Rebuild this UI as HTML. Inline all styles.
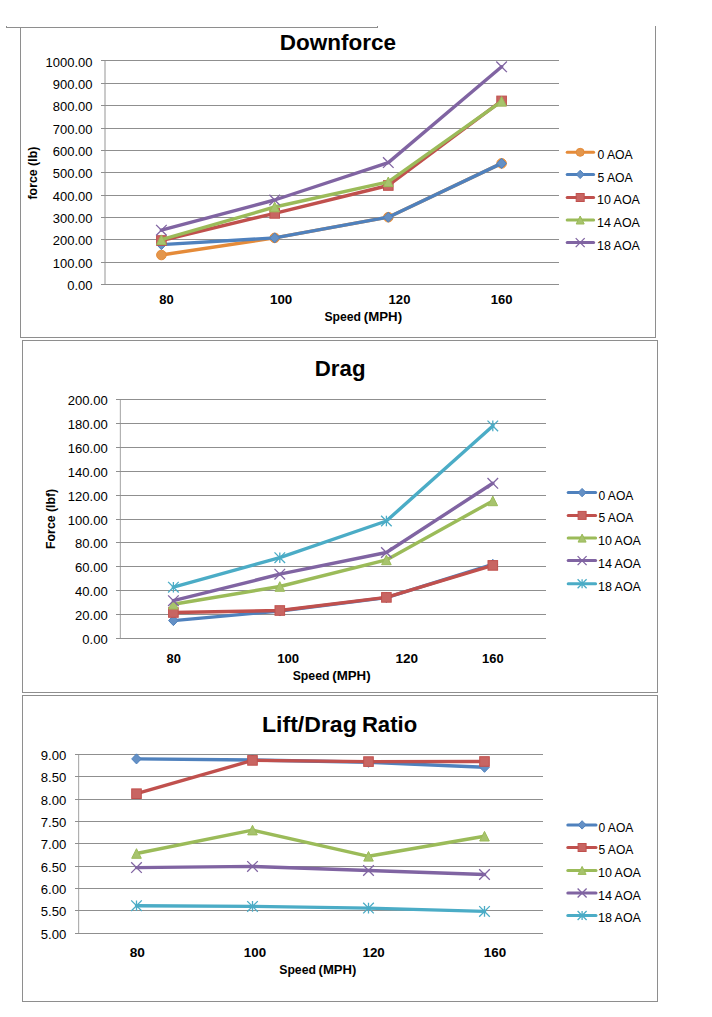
<!DOCTYPE html>
<html><head><meta charset="utf-8"><style>
html,body{margin:0;padding:0;background:#fff;width:712px;height:1017px;overflow:hidden}
svg{display:block;font-family:"Liberation Sans",sans-serif}
</style></head><body>
<svg width="712" height="1017" viewBox="0 0 712 1017">
<line x1="6.00" y1="27.50" x2="378.00" y2="27.50" stroke="#8e8e8e" stroke-width="1"/>
<line x1="6.50" y1="26.00" x2="6.50" y2="28.00" stroke="#8e8e8e" stroke-width="1"/>
<line x1="377.50" y1="26.00" x2="377.50" y2="28.00" stroke="#8e8e8e" stroke-width="1"/>
<line x1="20.50" y1="27.00" x2="20.50" y2="338.00" stroke="#8e8e8e" stroke-width="1"/>
<line x1="655.50" y1="26.00" x2="655.50" y2="338.00" stroke="#8e8e8e" stroke-width="1"/>
<line x1="20.00" y1="337.50" x2="656.00" y2="337.50" stroke="#8e8e8e" stroke-width="1"/>
<rect x="22.5" y="340.5" width="635" height="352" fill="none" stroke="#8e8e8e" stroke-width="1"/>
<rect x="22.5" y="695.5" width="635" height="306" fill="none" stroke="#8e8e8e" stroke-width="1"/>
<line x1="105.00" y1="60.00" x2="105.00" y2="285.00" stroke="#cacaca" stroke-width="2"/>
<line x1="101.00" y1="60.50" x2="559.00" y2="60.50" stroke="#8f8f8f" stroke-width="1"/>
<line x1="101.00" y1="83.50" x2="559.00" y2="83.50" stroke="#8f8f8f" stroke-width="1"/>
<line x1="101.00" y1="105.50" x2="559.00" y2="105.50" stroke="#8f8f8f" stroke-width="1"/>
<line x1="101.00" y1="128.50" x2="559.00" y2="128.50" stroke="#8f8f8f" stroke-width="1"/>
<line x1="101.00" y1="150.50" x2="559.00" y2="150.50" stroke="#8f8f8f" stroke-width="1"/>
<line x1="101.00" y1="172.50" x2="559.00" y2="172.50" stroke="#8f8f8f" stroke-width="1"/>
<line x1="101.00" y1="195.50" x2="559.00" y2="195.50" stroke="#8f8f8f" stroke-width="1"/>
<line x1="101.00" y1="217.50" x2="559.00" y2="217.50" stroke="#8f8f8f" stroke-width="1"/>
<line x1="101.00" y1="239.50" x2="559.00" y2="239.50" stroke="#8f8f8f" stroke-width="1"/>
<line x1="101.00" y1="262.50" x2="559.00" y2="262.50" stroke="#8f8f8f" stroke-width="1"/>
<line x1="101.00" y1="284.50" x2="559.00" y2="284.50" stroke="#8f8f8f" stroke-width="1"/>
<text x="45.51" y="67.10" font-size="12.40" font-weight="normal" fill="#000" textLength="47.00" lengthAdjust="spacingAndGlyphs">1000.00</text>
<text x="52.74" y="89.00" font-size="12.40" font-weight="normal" fill="#000" textLength="39.77" lengthAdjust="spacingAndGlyphs">900.00</text>
<text x="52.74" y="111.00" font-size="12.40" font-weight="normal" fill="#000" textLength="39.77" lengthAdjust="spacingAndGlyphs">800.00</text>
<text x="52.74" y="134.00" font-size="12.40" font-weight="normal" fill="#000" textLength="39.77" lengthAdjust="spacingAndGlyphs">700.00</text>
<text x="52.74" y="156.00" font-size="12.40" font-weight="normal" fill="#000" textLength="39.77" lengthAdjust="spacingAndGlyphs">600.00</text>
<text x="52.74" y="178.00" font-size="12.40" font-weight="normal" fill="#000" textLength="39.77" lengthAdjust="spacingAndGlyphs">500.00</text>
<text x="52.74" y="201.00" font-size="12.40" font-weight="normal" fill="#000" textLength="39.77" lengthAdjust="spacingAndGlyphs">400.00</text>
<text x="52.74" y="223.00" font-size="12.40" font-weight="normal" fill="#000" textLength="39.77" lengthAdjust="spacingAndGlyphs">300.00</text>
<text x="52.74" y="245.00" font-size="12.40" font-weight="normal" fill="#000" textLength="39.77" lengthAdjust="spacingAndGlyphs">200.00</text>
<text x="52.74" y="268.00" font-size="12.40" font-weight="normal" fill="#000" textLength="39.77" lengthAdjust="spacingAndGlyphs">100.00</text>
<text x="67.20" y="290.00" font-size="12.40" font-weight="normal" fill="#000" textLength="25.31" lengthAdjust="spacingAndGlyphs">0.00</text>
<text x="159.19" y="303.60" font-size="12.00" font-weight="bold" fill="#000" textLength="14.44" lengthAdjust="spacingAndGlyphs">80</text>
<text x="269.96" y="303.60" font-size="12.00" font-weight="bold" fill="#000" textLength="22.29" lengthAdjust="spacingAndGlyphs">100</text>
<text x="388.57" y="303.60" font-size="12.00" font-weight="bold" fill="#000" textLength="21.86" lengthAdjust="spacingAndGlyphs">120</text>
<text x="490.88" y="303.60" font-size="12.00" font-weight="bold" fill="#000" textLength="21.76" lengthAdjust="spacingAndGlyphs">160</text>
<text x="324.45" y="320.50" font-size="12.00" font-weight="bold" fill="#000" textLength="36.55" lengthAdjust="spacingAndGlyphs">Speed</text>
<text x="363.84" y="320.50" font-size="12.00" font-weight="bold" fill="#000" textLength="38.22" lengthAdjust="spacingAndGlyphs">(MPH)</text>
<text x="279.89" y="49.60" font-size="22.00" font-weight="bold" fill="#000" textLength="116.27" lengthAdjust="spacingAndGlyphs">Downforce</text>
<text transform="translate(36.90 199.51) rotate(-90)" x="0" y="0" font-size="12.00" font-weight="bold" fill="#000" textLength="52.83" lengthAdjust="spacingAndGlyphs">force (lb)</text>
<polyline points="161.40,255.00 274.70,237.90 388.30,217.20 501.60,163.40" fill="none" stroke="#E58B39" stroke-width="3.40" stroke-linejoin="round" stroke-linecap="round"/><circle cx="161.40" cy="255.00" r="4.80" fill="#E3964C" stroke="#E58B39" stroke-width="1.00"/><circle cx="274.70" cy="237.90" r="4.80" fill="#E3964C" stroke="#E58B39" stroke-width="1.00"/><circle cx="388.30" cy="217.20" r="4.80" fill="#E3964C" stroke="#E58B39" stroke-width="1.00"/><circle cx="501.60" cy="163.40" r="4.80" fill="#E3964C" stroke="#E58B39" stroke-width="1.00"/>
<polyline points="161.40,244.60 274.70,237.90 388.30,217.20 501.60,163.40" fill="none" stroke="#4F81BD" stroke-width="3.40" stroke-linejoin="round" stroke-linecap="round"/><path d="M161.40 239.56L166.20 244.60L161.40 249.64L156.60 244.60Z" fill="#6490C5" stroke="#4F81BD" stroke-width="1.00"/><path d="M274.70 232.86L279.50 237.90L274.70 242.94L269.90 237.90Z" fill="#6490C5" stroke="#4F81BD" stroke-width="1.00"/><path d="M388.30 212.16L393.10 217.20L388.30 222.24L383.50 217.20Z" fill="#6490C5" stroke="#4F81BD" stroke-width="1.00"/><path d="M501.60 158.36L506.40 163.40L501.60 168.44L496.80 163.40Z" fill="#6490C5" stroke="#4F81BD" stroke-width="1.00"/>
<polyline points="161.40,240.50 274.70,213.40 388.30,185.50 501.60,100.90" fill="none" stroke="#C0504D" stroke-width="3.40" stroke-linejoin="round" stroke-linecap="round"/><rect x="156.60" y="235.70" width="9.60" height="9.60" fill="#C86562" stroke="#C0504D" stroke-width="1.00"/><rect x="269.90" y="208.60" width="9.60" height="9.60" fill="#C86562" stroke="#C0504D" stroke-width="1.00"/><rect x="383.50" y="180.70" width="9.60" height="9.60" fill="#C86562" stroke="#C0504D" stroke-width="1.00"/><rect x="496.80" y="96.10" width="9.60" height="9.60" fill="#C86562" stroke="#C0504D" stroke-width="1.00"/>
<polyline points="161.40,239.70 274.70,207.00 388.30,181.80 501.60,101.30" fill="none" stroke="#9BBB59" stroke-width="3.40" stroke-linejoin="round" stroke-linecap="round"/><path d="M161.40 234.90L166.20 244.50L156.60 244.50Z" fill="#A7C36D" stroke="#9BBB59" stroke-width="1.00"/><path d="M274.70 202.20L279.50 211.80L269.90 211.80Z" fill="#A7C36D" stroke="#9BBB59" stroke-width="1.00"/><path d="M388.30 177.00L393.10 186.60L383.50 186.60Z" fill="#A7C36D" stroke="#9BBB59" stroke-width="1.00"/><path d="M501.60 96.50L506.40 106.10L496.80 106.10Z" fill="#A7C36D" stroke="#9BBB59" stroke-width="1.00"/>
<polyline points="161.40,230.20 274.70,200.00 388.30,162.60 501.60,66.80" fill="none" stroke="#8064A2" stroke-width="3.40" stroke-linejoin="round" stroke-linecap="round"/><path d="M156.10 224.90L166.70 235.50M166.70 224.90L156.10 235.50" stroke="#8064A2" stroke-width="1.3" fill="none"/><path d="M269.40 194.70L280.00 205.30M280.00 194.70L269.40 205.30" stroke="#8064A2" stroke-width="1.3" fill="none"/><path d="M383.00 157.30L393.60 167.90M393.60 157.30L383.00 167.90" stroke="#8064A2" stroke-width="1.3" fill="none"/><path d="M496.30 61.50L506.90 72.10M506.90 61.50L496.30 72.10" stroke="#8064A2" stroke-width="1.3" fill="none"/>
<line x1="567.20" y1="152.30" x2="593.60" y2="152.30" stroke="#E58B39" stroke-width="3" stroke-linecap="round"/><circle cx="580.20" cy="152.30" r="4.00" fill="#E3964C" stroke="#E58B39" stroke-width="1.00"/><text x="597.43" y="159.00" font-size="12.00" font-weight="normal" fill="#000" textLength="35.29" lengthAdjust="spacingAndGlyphs">0 AOA</text>
<line x1="567.20" y1="174.40" x2="593.60" y2="174.40" stroke="#4F81BD" stroke-width="3" stroke-linecap="round"/><path d="M580.20 170.20L584.20 174.40L580.20 178.60L576.20 174.40Z" fill="#6490C5" stroke="#4F81BD" stroke-width="1.00"/><text x="597.42" y="181.60" font-size="12.00" font-weight="normal" fill="#000" textLength="35.30" lengthAdjust="spacingAndGlyphs">5 AOA</text>
<line x1="567.20" y1="197.50" x2="593.60" y2="197.50" stroke="#C0504D" stroke-width="3" stroke-linecap="round"/><rect x="576.20" y="193.50" width="8.00" height="8.00" fill="#C86562" stroke="#C0504D" stroke-width="1.00"/><text x="596.97" y="204.40" font-size="12.00" font-weight="normal" fill="#000" textLength="42.96" lengthAdjust="spacingAndGlyphs">10 AOA</text>
<line x1="567.20" y1="220.00" x2="593.60" y2="220.00" stroke="#9BBB59" stroke-width="3" stroke-linecap="round"/><path d="M580.20 216.00L584.20 224.00L576.20 224.00Z" fill="#A7C36D" stroke="#9BBB59" stroke-width="1.00"/><text x="596.97" y="226.90" font-size="12.00" font-weight="normal" fill="#000" textLength="42.96" lengthAdjust="spacingAndGlyphs">14 AOA</text>
<line x1="567.20" y1="242.60" x2="593.60" y2="242.60" stroke="#8064A2" stroke-width="3" stroke-linecap="round"/><path d="M575.70 238.10L584.70 247.10M584.70 238.10L575.70 247.10" stroke="#8064A2" stroke-width="1.3" fill="none"/><text x="596.97" y="249.50" font-size="12.00" font-weight="normal" fill="#000" textLength="42.96" lengthAdjust="spacingAndGlyphs">18 AOA</text>
<line x1="120.50" y1="399.00" x2="120.50" y2="639.00" stroke="#b2b2b2" stroke-width="1"/>
<line x1="119.50" y1="399.00" x2="119.50" y2="639.00" stroke="#f0f0f0" stroke-width="1"/>
<line x1="116.00" y1="399.50" x2="546.00" y2="399.50" stroke="#8f8f8f" stroke-width="1"/>
<line x1="116.00" y1="423.50" x2="546.00" y2="423.50" stroke="#8f8f8f" stroke-width="1"/>
<line x1="116.00" y1="447.50" x2="546.00" y2="447.50" stroke="#8f8f8f" stroke-width="1"/>
<line x1="116.00" y1="471.50" x2="546.00" y2="471.50" stroke="#8f8f8f" stroke-width="1"/>
<line x1="116.00" y1="495.50" x2="546.00" y2="495.50" stroke="#8f8f8f" stroke-width="1"/>
<line x1="116.00" y1="519.50" x2="546.00" y2="519.50" stroke="#8f8f8f" stroke-width="1"/>
<line x1="116.00" y1="542.50" x2="546.00" y2="542.50" stroke="#8f8f8f" stroke-width="1"/>
<line x1="116.00" y1="566.50" x2="546.00" y2="566.50" stroke="#8f8f8f" stroke-width="1"/>
<line x1="116.00" y1="590.50" x2="546.00" y2="590.50" stroke="#8f8f8f" stroke-width="1"/>
<line x1="116.00" y1="614.50" x2="546.00" y2="614.50" stroke="#8f8f8f" stroke-width="1"/>
<line x1="116.00" y1="638.50" x2="546.00" y2="638.50" stroke="#8f8f8f" stroke-width="1"/>
<text x="67.74" y="405.00" font-size="12.40" font-weight="normal" fill="#000" textLength="39.97" lengthAdjust="spacingAndGlyphs">200.00</text>
<text x="67.74" y="429.00" font-size="12.40" font-weight="normal" fill="#000" textLength="39.97" lengthAdjust="spacingAndGlyphs">180.00</text>
<text x="67.74" y="453.00" font-size="12.40" font-weight="normal" fill="#000" textLength="39.97" lengthAdjust="spacingAndGlyphs">160.00</text>
<text x="67.74" y="477.00" font-size="12.40" font-weight="normal" fill="#000" textLength="39.97" lengthAdjust="spacingAndGlyphs">140.00</text>
<text x="67.74" y="501.00" font-size="12.40" font-weight="normal" fill="#000" textLength="39.97" lengthAdjust="spacingAndGlyphs">120.00</text>
<text x="67.74" y="525.00" font-size="12.40" font-weight="normal" fill="#000" textLength="39.97" lengthAdjust="spacingAndGlyphs">100.00</text>
<text x="75.01" y="548.00" font-size="12.40" font-weight="normal" fill="#000" textLength="32.70" lengthAdjust="spacingAndGlyphs">80.00</text>
<text x="75.01" y="572.00" font-size="12.40" font-weight="normal" fill="#000" textLength="32.70" lengthAdjust="spacingAndGlyphs">60.00</text>
<text x="75.01" y="596.00" font-size="12.40" font-weight="normal" fill="#000" textLength="32.70" lengthAdjust="spacingAndGlyphs">40.00</text>
<text x="75.01" y="620.00" font-size="12.40" font-weight="normal" fill="#000" textLength="32.70" lengthAdjust="spacingAndGlyphs">20.00</text>
<text x="82.28" y="644.00" font-size="12.40" font-weight="normal" fill="#000" textLength="25.43" lengthAdjust="spacingAndGlyphs">0.00</text>
<text x="166.49" y="663.00" font-size="12.00" font-weight="bold" fill="#000" textLength="14.34" lengthAdjust="spacingAndGlyphs">80</text>
<text x="277.17" y="663.00" font-size="12.00" font-weight="bold" fill="#000" textLength="21.97" lengthAdjust="spacingAndGlyphs">100</text>
<text x="395.45" y="663.00" font-size="12.00" font-weight="bold" fill="#000" textLength="22.61" lengthAdjust="spacingAndGlyphs">120</text>
<text x="482.09" y="663.00" font-size="12.00" font-weight="bold" fill="#000" textLength="21.54" lengthAdjust="spacingAndGlyphs">160</text>
<text x="292.65" y="679.80" font-size="12.00" font-weight="bold" fill="#000" textLength="36.86" lengthAdjust="spacingAndGlyphs">Speed</text>
<text x="332.24" y="679.80" font-size="12.00" font-weight="bold" fill="#000" textLength="38.43" lengthAdjust="spacingAndGlyphs">(MPH)</text>
<text x="314.81" y="375.90" font-size="22.00" font-weight="bold" fill="#000" textLength="50.68" lengthAdjust="spacingAndGlyphs">Drag</text>
<text transform="translate(54.70 548.92) rotate(-90)" x="0" y="0" font-size="12.00" font-weight="bold" fill="#000" textLength="60.14" lengthAdjust="spacingAndGlyphs">Force (lbf)</text>
<polyline points="173.40,620.60 279.80,611.00 386.40,597.60 492.80,564.40" fill="none" stroke="#4F81BD" stroke-width="3.40" stroke-linejoin="round" stroke-linecap="round"/><path d="M173.40 615.56L178.20 620.60L173.40 625.64L168.60 620.60Z" fill="#6490C5" stroke="#4F81BD" stroke-width="1.00"/><path d="M279.80 605.96L284.60 611.00L279.80 616.04L275.00 611.00Z" fill="#6490C5" stroke="#4F81BD" stroke-width="1.00"/><path d="M386.40 592.56L391.20 597.60L386.40 602.64L381.60 597.60Z" fill="#6490C5" stroke="#4F81BD" stroke-width="1.00"/><path d="M492.80 559.36L497.60 564.40L492.80 569.44L488.00 564.40Z" fill="#6490C5" stroke="#4F81BD" stroke-width="1.00"/>
<polyline points="173.40,612.50 279.80,610.50 386.40,597.40 492.80,565.40" fill="none" stroke="#C0504D" stroke-width="3.40" stroke-linejoin="round" stroke-linecap="round"/><rect x="168.60" y="607.70" width="9.60" height="9.60" fill="#C86562" stroke="#C0504D" stroke-width="1.00"/><rect x="275.00" y="605.70" width="9.60" height="9.60" fill="#C86562" stroke="#C0504D" stroke-width="1.00"/><rect x="381.60" y="592.60" width="9.60" height="9.60" fill="#C86562" stroke="#C0504D" stroke-width="1.00"/><rect x="488.00" y="560.60" width="9.60" height="9.60" fill="#C86562" stroke="#C0504D" stroke-width="1.00"/>
<polyline points="173.40,604.20 279.80,586.50 386.40,559.90 492.80,500.90" fill="none" stroke="#9BBB59" stroke-width="3.40" stroke-linejoin="round" stroke-linecap="round"/><path d="M173.40 599.40L178.20 609.00L168.60 609.00Z" fill="#A7C36D" stroke="#9BBB59" stroke-width="1.00"/><path d="M279.80 581.70L284.60 591.30L275.00 591.30Z" fill="#A7C36D" stroke="#9BBB59" stroke-width="1.00"/><path d="M386.40 555.10L391.20 564.70L381.60 564.70Z" fill="#A7C36D" stroke="#9BBB59" stroke-width="1.00"/><path d="M492.80 496.10L497.60 505.70L488.00 505.70Z" fill="#A7C36D" stroke="#9BBB59" stroke-width="1.00"/>
<polyline points="173.40,600.70 279.80,574.20 386.40,552.50 492.80,483.30" fill="none" stroke="#8064A2" stroke-width="3.40" stroke-linejoin="round" stroke-linecap="round"/><path d="M168.10 595.40L178.70 606.00M178.70 595.40L168.10 606.00" stroke="#8064A2" stroke-width="1.3" fill="none"/><path d="M274.50 568.90L285.10 579.50M285.10 568.90L274.50 579.50" stroke="#8064A2" stroke-width="1.3" fill="none"/><path d="M381.10 547.20L391.70 557.80M391.70 547.20L381.10 557.80" stroke="#8064A2" stroke-width="1.3" fill="none"/><path d="M487.50 478.00L498.10 488.60M498.10 478.00L487.50 488.60" stroke="#8064A2" stroke-width="1.3" fill="none"/>
<polyline points="173.40,587.20 279.80,557.70 386.40,521.00 492.80,425.90" fill="none" stroke="#4BACC6" stroke-width="3.40" stroke-linejoin="round" stroke-linecap="round"/><path d="M168.10 581.90L178.70 592.50M178.70 581.90L168.10 592.50M173.40 581.90L173.40 592.50" stroke="#4BACC6" stroke-width="1.3" fill="none"/><path d="M274.50 552.40L285.10 563.00M285.10 552.40L274.50 563.00M279.80 552.40L279.80 563.00" stroke="#4BACC6" stroke-width="1.3" fill="none"/><path d="M381.10 515.70L391.70 526.30M391.70 515.70L381.10 526.30M386.40 515.70L386.40 526.30" stroke="#4BACC6" stroke-width="1.3" fill="none"/><path d="M487.50 420.60L498.10 431.20M498.10 420.60L487.50 431.20M492.80 420.60L492.80 431.20" stroke="#4BACC6" stroke-width="1.3" fill="none"/>
<line x1="568.20" y1="492.60" x2="595.60" y2="492.60" stroke="#4F81BD" stroke-width="3" stroke-linecap="round"/><path d="M582.10 488.40L586.10 492.60L582.10 496.80L578.10 492.60Z" fill="#6490C5" stroke="#4F81BD" stroke-width="1.00"/><text x="598.44" y="499.60" font-size="12.00" font-weight="normal" fill="#000" textLength="34.89" lengthAdjust="spacingAndGlyphs">0 AOA</text>
<line x1="568.20" y1="515.40" x2="595.60" y2="515.40" stroke="#C0504D" stroke-width="3" stroke-linecap="round"/><rect x="578.10" y="511.40" width="8.00" height="8.00" fill="#C86562" stroke="#C0504D" stroke-width="1.00"/><text x="598.43" y="522.40" font-size="12.00" font-weight="normal" fill="#000" textLength="34.90" lengthAdjust="spacingAndGlyphs">5 AOA</text>
<line x1="568.20" y1="538.10" x2="595.60" y2="538.10" stroke="#9BBB59" stroke-width="3" stroke-linecap="round"/><path d="M582.10 534.10L586.10 542.10L578.10 542.10Z" fill="#A7C36D" stroke="#9BBB59" stroke-width="1.00"/><text x="597.97" y="545.10" font-size="12.00" font-weight="normal" fill="#000" textLength="42.96" lengthAdjust="spacingAndGlyphs">10 AOA</text>
<line x1="568.20" y1="560.60" x2="595.60" y2="560.60" stroke="#8064A2" stroke-width="3" stroke-linecap="round"/><path d="M577.60 556.10L586.60 565.10M586.60 556.10L577.60 565.10" stroke="#8064A2" stroke-width="1.3" fill="none"/><text x="597.97" y="567.60" font-size="12.00" font-weight="normal" fill="#000" textLength="42.96" lengthAdjust="spacingAndGlyphs">14 AOA</text>
<line x1="568.20" y1="583.70" x2="595.60" y2="583.70" stroke="#4BACC6" stroke-width="3" stroke-linecap="round"/><path d="M577.60 579.20L586.60 588.20M586.60 579.20L577.60 588.20M582.10 579.20L582.10 588.20" stroke="#4BACC6" stroke-width="1.3" fill="none"/><text x="597.97" y="590.70" font-size="12.00" font-weight="normal" fill="#000" textLength="42.96" lengthAdjust="spacingAndGlyphs">18 AOA</text>
<line x1="78.50" y1="754.00" x2="78.50" y2="934.00" stroke="#b0b0b0" stroke-width="1"/>
<line x1="79.50" y1="754.00" x2="79.50" y2="934.00" stroke="#f0f0f0" stroke-width="1"/>
<line x1="75.00" y1="754.50" x2="543.00" y2="754.50" stroke="#8f8f8f" stroke-width="1"/>
<line x1="75.00" y1="776.50" x2="543.00" y2="776.50" stroke="#8f8f8f" stroke-width="1"/>
<line x1="75.00" y1="799.50" x2="543.00" y2="799.50" stroke="#8f8f8f" stroke-width="1"/>
<line x1="75.00" y1="821.50" x2="543.00" y2="821.50" stroke="#8f8f8f" stroke-width="1"/>
<line x1="75.00" y1="843.50" x2="543.00" y2="843.50" stroke="#8f8f8f" stroke-width="1"/>
<line x1="75.00" y1="866.50" x2="543.00" y2="866.50" stroke="#8f8f8f" stroke-width="1"/>
<line x1="75.00" y1="888.50" x2="543.00" y2="888.50" stroke="#8f8f8f" stroke-width="1"/>
<line x1="75.00" y1="910.50" x2="543.00" y2="910.50" stroke="#8f8f8f" stroke-width="1"/>
<line x1="75.00" y1="933.50" x2="543.00" y2="933.50" stroke="#8f8f8f" stroke-width="1"/>
<text x="40.79" y="760.00" font-size="12.40" font-weight="normal" fill="#000" textLength="25.53" lengthAdjust="spacingAndGlyphs">9.00</text>
<text x="40.79" y="782.00" font-size="12.40" font-weight="normal" fill="#000" textLength="25.53" lengthAdjust="spacingAndGlyphs">8.50</text>
<text x="40.79" y="805.00" font-size="12.40" font-weight="normal" fill="#000" textLength="25.53" lengthAdjust="spacingAndGlyphs">8.00</text>
<text x="40.79" y="827.00" font-size="12.40" font-weight="normal" fill="#000" textLength="25.53" lengthAdjust="spacingAndGlyphs">7.50</text>
<text x="40.79" y="849.00" font-size="12.40" font-weight="normal" fill="#000" textLength="25.53" lengthAdjust="spacingAndGlyphs">7.00</text>
<text x="40.79" y="872.00" font-size="12.40" font-weight="normal" fill="#000" textLength="25.53" lengthAdjust="spacingAndGlyphs">6.50</text>
<text x="40.79" y="894.00" font-size="12.40" font-weight="normal" fill="#000" textLength="25.53" lengthAdjust="spacingAndGlyphs">6.00</text>
<text x="40.79" y="916.00" font-size="12.40" font-weight="normal" fill="#000" textLength="25.53" lengthAdjust="spacingAndGlyphs">5.50</text>
<text x="40.79" y="939.00" font-size="12.40" font-weight="normal" fill="#000" textLength="25.53" lengthAdjust="spacingAndGlyphs">5.00</text>
<text x="129.67" y="956.80" font-size="12.00" font-weight="bold" fill="#000" textLength="15.19" lengthAdjust="spacingAndGlyphs">80</text>
<text x="243.86" y="956.80" font-size="12.00" font-weight="bold" fill="#000" textLength="22.29" lengthAdjust="spacingAndGlyphs">100</text>
<text x="362.46" y="956.80" font-size="12.00" font-weight="bold" fill="#000" textLength="22.29" lengthAdjust="spacingAndGlyphs">120</text>
<text x="483.75" y="956.80" font-size="12.00" font-weight="bold" fill="#000" textLength="22.40" lengthAdjust="spacingAndGlyphs">160</text>
<text x="279.25" y="974.00" font-size="12.00" font-weight="bold" fill="#000" textLength="36.66" lengthAdjust="spacingAndGlyphs">Speed</text>
<text x="318.60" y="974.00" font-size="12.00" font-weight="bold" fill="#000" textLength="37.75" lengthAdjust="spacingAndGlyphs">(MPH)</text>
<text x="262.06" y="731.50" font-size="22.00" font-weight="bold" fill="#000" textLength="94.68" lengthAdjust="spacingAndGlyphs">Lift/Drag</text>
<text x="361.92" y="731.50" font-size="22.00" font-weight="bold" fill="#000" textLength="55.24" lengthAdjust="spacingAndGlyphs">Ratio</text>
<polyline points="136.50,758.90 252.50,760.00 368.50,762.30 484.50,767.30" fill="none" stroke="#4F81BD" stroke-width="3.40" stroke-linejoin="round" stroke-linecap="round"/><path d="M136.50 753.86L141.30 758.90L136.50 763.94L131.70 758.90Z" fill="#6490C5" stroke="#4F81BD" stroke-width="1.00"/><path d="M252.50 754.96L257.30 760.00L252.50 765.04L247.70 760.00Z" fill="#6490C5" stroke="#4F81BD" stroke-width="1.00"/><path d="M368.50 757.26L373.30 762.30L368.50 767.34L363.70 762.30Z" fill="#6490C5" stroke="#4F81BD" stroke-width="1.00"/><path d="M484.50 762.26L489.30 767.30L484.50 772.34L479.70 767.30Z" fill="#6490C5" stroke="#4F81BD" stroke-width="1.00"/>
<polyline points="136.50,793.70 252.50,760.40 368.50,761.60 484.50,761.50" fill="none" stroke="#C0504D" stroke-width="3.40" stroke-linejoin="round" stroke-linecap="round"/><rect x="131.70" y="788.90" width="9.60" height="9.60" fill="#C86562" stroke="#C0504D" stroke-width="1.00"/><rect x="247.70" y="755.60" width="9.60" height="9.60" fill="#C86562" stroke="#C0504D" stroke-width="1.00"/><rect x="363.70" y="756.80" width="9.60" height="9.60" fill="#C86562" stroke="#C0504D" stroke-width="1.00"/><rect x="479.70" y="756.70" width="9.60" height="9.60" fill="#C86562" stroke="#C0504D" stroke-width="1.00"/>
<polyline points="136.50,853.50 252.50,830.10 368.50,856.30 484.50,836.20" fill="none" stroke="#9BBB59" stroke-width="3.40" stroke-linejoin="round" stroke-linecap="round"/><path d="M136.50 848.70L141.30 858.30L131.70 858.30Z" fill="#A7C36D" stroke="#9BBB59" stroke-width="1.00"/><path d="M252.50 825.30L257.30 834.90L247.70 834.90Z" fill="#A7C36D" stroke="#9BBB59" stroke-width="1.00"/><path d="M368.50 851.50L373.30 861.10L363.70 861.10Z" fill="#A7C36D" stroke="#9BBB59" stroke-width="1.00"/><path d="M484.50 831.40L489.30 841.00L479.70 841.00Z" fill="#A7C36D" stroke="#9BBB59" stroke-width="1.00"/>
<polyline points="136.50,867.60 252.50,866.40 368.50,870.50 484.50,874.50" fill="none" stroke="#8064A2" stroke-width="3.40" stroke-linejoin="round" stroke-linecap="round"/><path d="M131.20 862.30L141.80 872.90M141.80 862.30L131.20 872.90" stroke="#8064A2" stroke-width="1.3" fill="none"/><path d="M247.20 861.10L257.80 871.70M257.80 861.10L247.20 871.70" stroke="#8064A2" stroke-width="1.3" fill="none"/><path d="M363.20 865.20L373.80 875.80M373.80 865.20L363.20 875.80" stroke="#8064A2" stroke-width="1.3" fill="none"/><path d="M479.20 869.20L489.80 879.80M489.80 869.20L479.20 879.80" stroke="#8064A2" stroke-width="1.3" fill="none"/>
<polyline points="136.50,905.70 252.50,906.40 368.50,908.10 484.50,911.40" fill="none" stroke="#4BACC6" stroke-width="3.40" stroke-linejoin="round" stroke-linecap="round"/><path d="M131.20 900.40L141.80 911.00M141.80 900.40L131.20 911.00M136.50 900.40L136.50 911.00" stroke="#4BACC6" stroke-width="1.3" fill="none"/><path d="M247.20 901.10L257.80 911.70M257.80 901.10L247.20 911.70M252.50 901.10L252.50 911.70" stroke="#4BACC6" stroke-width="1.3" fill="none"/><path d="M363.20 902.80L373.80 913.40M373.80 902.80L363.20 913.40M368.50 902.80L368.50 913.40" stroke="#4BACC6" stroke-width="1.3" fill="none"/><path d="M479.20 906.10L489.80 916.70M489.80 906.10L479.20 916.70M484.50 906.10L484.50 916.70" stroke="#4BACC6" stroke-width="1.3" fill="none"/>
<line x1="567.80" y1="824.90" x2="596.00" y2="824.90" stroke="#4F81BD" stroke-width="3" stroke-linecap="round"/><path d="M582.10 820.70L586.10 824.90L582.10 829.10L578.10 824.90Z" fill="#6490C5" stroke="#4F81BD" stroke-width="1.00"/><text x="598.44" y="831.70" font-size="12.00" font-weight="normal" fill="#000" textLength="34.89" lengthAdjust="spacingAndGlyphs">0 AOA</text>
<line x1="567.80" y1="847.50" x2="596.00" y2="847.50" stroke="#C0504D" stroke-width="3" stroke-linecap="round"/><rect x="578.10" y="843.50" width="8.00" height="8.00" fill="#C86562" stroke="#C0504D" stroke-width="1.00"/><text x="598.43" y="854.30" font-size="12.00" font-weight="normal" fill="#000" textLength="34.90" lengthAdjust="spacingAndGlyphs">5 AOA</text>
<line x1="567.80" y1="870.40" x2="596.00" y2="870.40" stroke="#9BBB59" stroke-width="3" stroke-linecap="round"/><path d="M582.10 866.40L586.10 874.40L578.10 874.40Z" fill="#A7C36D" stroke="#9BBB59" stroke-width="1.00"/><text x="597.97" y="877.20" font-size="12.00" font-weight="normal" fill="#000" textLength="42.96" lengthAdjust="spacingAndGlyphs">10 AOA</text>
<line x1="567.80" y1="893.00" x2="596.00" y2="893.00" stroke="#8064A2" stroke-width="3" stroke-linecap="round"/><path d="M577.60 888.50L586.60 897.50M586.60 888.50L577.60 897.50" stroke="#8064A2" stroke-width="1.3" fill="none"/><text x="597.97" y="899.80" font-size="12.00" font-weight="normal" fill="#000" textLength="42.96" lengthAdjust="spacingAndGlyphs">14 AOA</text>
<line x1="567.80" y1="915.50" x2="596.00" y2="915.50" stroke="#4BACC6" stroke-width="3" stroke-linecap="round"/><path d="M577.60 911.00L586.60 920.00M586.60 911.00L577.60 920.00M582.10 911.00L582.10 920.00" stroke="#4BACC6" stroke-width="1.3" fill="none"/><text x="597.97" y="922.30" font-size="12.00" font-weight="normal" fill="#000" textLength="42.96" lengthAdjust="spacingAndGlyphs">18 AOA</text>
</svg>
</body></html>
